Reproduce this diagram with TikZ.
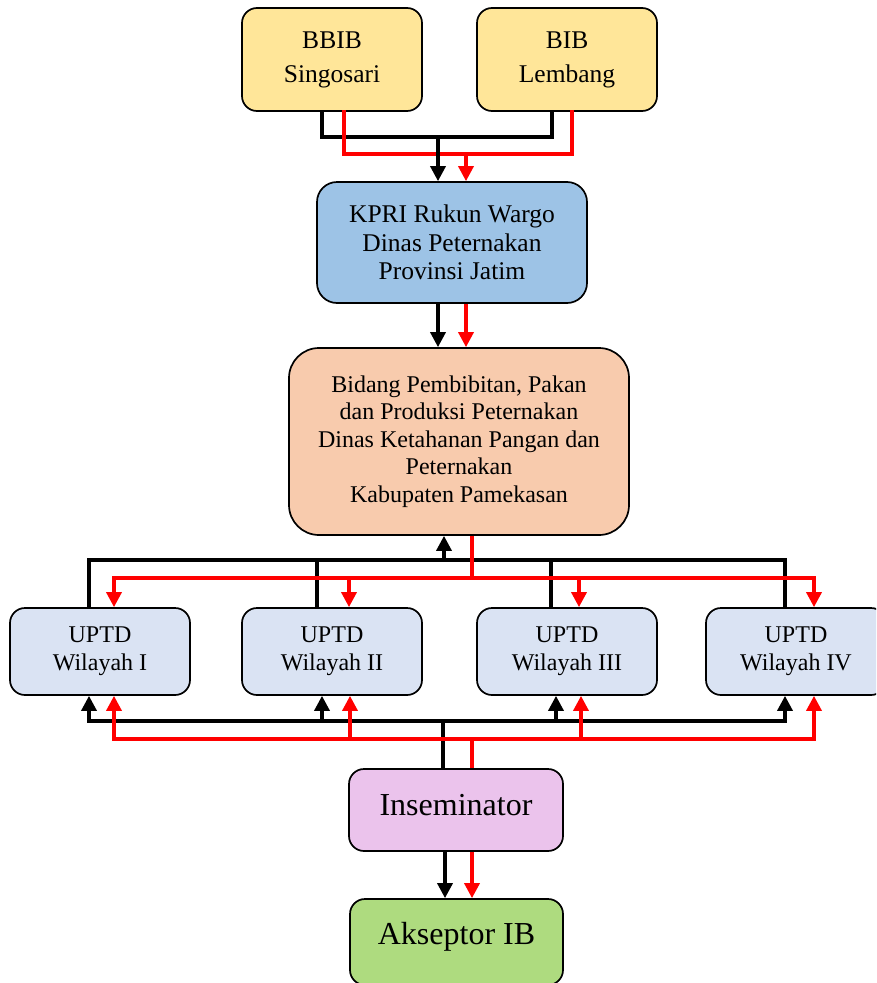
\documentclass[tikz,border=0pt]{standalone}
\usepackage{fontspec}
\setmainfont{Liberation Serif}
\usetikzlibrary{arrows.meta,calc}
\definecolor{cyel}{HTML}{FFE699}
\definecolor{cblu}{HTML}{9DC3E6}
\definecolor{corg}{HTML}{F8CBAD}
\definecolor{cupt}{HTML}{DAE3F3}
\definecolor{cpnk}{HTML}{EBC3EC}
\definecolor{cgrn}{HTML}{AEDB7F}
\begin{document}
\begin{tikzpicture}[x=1pt,y=-1pt,
  box/.style={draw=black,line width=1.7pt,rounded corners=15pt,align=center,inner sep=0pt,
    font=\fontsize{24}{28}\selectfont},
  big/.style={font=\fontsize{32}{36}\selectfont},
  bl/.style={line width=3.4pt,draw=black},
  rd/.style={line width=3.4pt,draw=red},
  tip/.style={-{Triangle[length=15pt,width=15pt]}}
]
\useasboundingbox (0,0) rectangle (876,983);
\begin{scope}
\clip (0,0) rectangle (876,983);
% nodes
\node[box,fill=cyel,minimum width=180pt,minimum height=103pt,font=\fontsize{25.5}{34}\selectfont] (bbib) at (332,59.5) {BBIB\\Singosari};
\node[box,fill=cyel,minimum width=180pt,minimum height=103pt,font=\fontsize{25.5}{34}\selectfont] (bib) at (567,59.5) {BIB\\Lembang};
\node[box,fill=cblu,minimum width=270pt,minimum height=121pt,rounded corners=20pt,font=\fontsize{25.5}{28.5}\selectfont] (kpri) at (452,242.5) {KPRI Rukun Wargo\\Dinas Peternakan\\Provinsi Jatim};
\node[box,fill=corg,minimum width=340pt,minimum height=187pt,rounded corners=30pt,
  font=\fontsize{24}{27.5}\selectfont] (bid) at (459,441.5)
  {Bidang Pembibitan, Pakan\\dan Produksi Peternakan\\Dinas Ketahanan Pangan dan\\Peternakan\\Kabupaten Pamekasan};
\node[box,fill=cupt,minimum width=180pt,minimum height=87pt] (u1) at (100,651.5) {UPTD\\Wilayah I};
\node[box,fill=cupt,minimum width=180pt,minimum height=87pt] (u2) at (332,651.5) {UPTD\\Wilayah II};
\node[box,fill=cupt,minimum width=180pt,minimum height=87pt] (u3) at (567,651.5) {UPTD\\Wilayah III};
\node[box,fill=cupt,minimum width=180pt,minimum height=87pt] (u4) at (796,651.5) {UPTD\\Wilayah IV};
\node[box,big,fill=cpnk,minimum width=214pt,minimum height=82pt] (ins) at (456,810) {\raisebox{10pt}{Inseminator}};
\node[box,big,fill=cgrn,minimum width=213pt,minimum height=86pt] (aks) at (456.5,942) {\raisebox{17pt}{Akseptor IB}};

% top: BBIB/BIB -> KPRI
\coordinate (tb) at (438,137);
\coordinate (tr) at (466,154);
\draw[bl,line cap=rect] ([xshift=-10pt]bbib.south) |- (tb) -| ([xshift=-15pt]bib.south);
\draw[rd,line cap=rect] ([xshift=12pt]bbib.south) |- (tr) -| ([xshift=5pt]bib.south);
\draw[bl,tip] (tb) -- ([xshift=-14pt]kpri.north);
\draw[rd,tip] (tr) -- ([xshift=14pt]kpri.north);

% KPRI -> Bidang
\draw[bl,tip] ([xshift=-14pt]kpri.south) -- ([xshift=-21pt]bid.north);
\draw[rd,tip] ([xshift=14pt]kpri.south) -- ([xshift=7pt]bid.north);

% Bidang <-> UPTD
\coordinate (mb) at (444,560);
\coordinate (mr) at (472,578);
\draw[bl,line cap=rect] ([xshift=-11pt]u1.north) |- (mb) -| ([xshift=-11pt]u4.north);
\draw[bl] ([xshift=-15pt]u2.north) -- ([xshift=-15pt]u2.north |- mb);
\draw[bl] ([xshift=-16pt]u3.north) -- ([xshift=-16pt]u3.north |- mb);
\draw[bl,tip] (mb) -- ([xshift=-15pt]bid.south);
\draw[rd] ([xshift=13pt]bid.south) -- (mr);
\draw[rd,tip] (mr) -| ([xshift=14pt]u1.north);
\draw[rd,tip] (mr) -| ([xshift=18pt]u4.north);
\draw[rd,tip] ([xshift=17pt]u2.north |- mr) -- ([xshift=17pt]u2.north);
\draw[rd,tip] ([xshift=12pt]u3.north |- mr) -- ([xshift=12pt]u3.north);

% Inseminator -> UPTD
\coordinate (bb) at (443,721);
\coordinate (br) at (472,739);
\draw[bl] ([xshift=-13pt]ins.north) -- (bb);
\draw[rd] ([xshift=16pt]ins.north) -- (br);
\draw[bl,tip] (bb) -| ([xshift=-11pt]u1.south);
\draw[bl,tip] (bb) -| ([xshift=-11pt]u4.south);
\draw[bl,tip] ([xshift=-10pt]u2.south |- bb) -- ([xshift=-10pt]u2.south);
\draw[bl,tip] ([xshift=-11pt]u3.south |- bb) -- ([xshift=-11pt]u3.south);
\draw[rd,tip] (br) -| ([xshift=14pt]u1.south);
\draw[rd,tip] (br) -| ([xshift=18pt]u4.south);
\draw[rd,tip] ([xshift=18pt]u2.south |- br) -- ([xshift=18pt]u2.south);
\draw[rd,tip] ([xshift=14pt]u3.south |- br) -- ([xshift=14pt]u3.south);

% Inseminator -> Akseptor
\draw[bl,tip] ([xshift=-11pt]ins.south) -- ([xshift=-11.5pt]aks.north);
\draw[rd,tip] ([xshift=16pt]ins.south) -- ([xshift=15.5pt]aks.north);
\end{scope}
\end{tikzpicture}
\end{document}
